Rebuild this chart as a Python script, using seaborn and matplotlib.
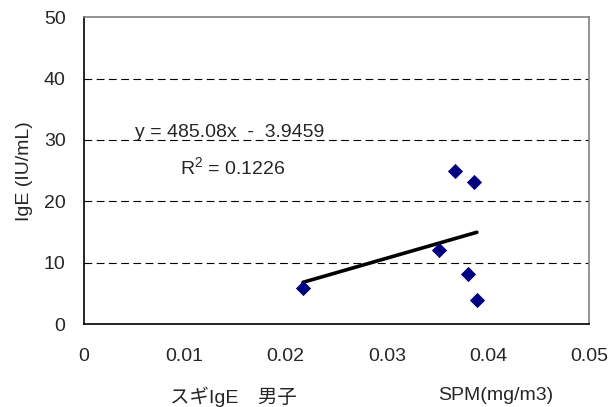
import pandas as pd
import matplotlib
matplotlib.use("Agg")
import matplotlib.pyplot as plt
import seaborn as sns

# data
spm = [0.0217, 0.0352, 0.0367, 0.0386, 0.0380, 0.0389]
ige = [5.8, 12.1, 25.0, 23.2, 8.2, 3.9]
x_ticks = [0, 0.01, 0.02, 0.03, 0.04, 0.05]
x_tick_labels = ["0", "0.01", "0.02", "0.03", "0.04", "0.05"]
y_ticks = [0, 10, 20, 30, 40, 50]
eq_text = "y = 485.08x  -  3.9459"
r2_text = "R$^2$ = 0.1226"

df = pd.DataFrame({"SPM": spm, "IgE": ige})

sns.set_style("white")
plt.rcParams["font.family"] = ["Liberation Sans", "Noto Sans CJK JP"]
plt.rcParams["mathtext.fontset"] = "custom"
plt.rcParams["mathtext.rm"] = "Liberation Sans"

fig = plt.figure(figsize=(6.1, 4.07), dpi=100)
ax = fig.add_axes([0.137, 0.2039, 0.8286, 0.7536])

# grid lines
for v in y_ticks[1:-1]:
    ax.axhline(v, color="black", lw=0.8, ls=(0, (7, 4)), zorder=0)

# trend line (fit from points) + markers
sns.regplot(x="SPM", y="IgE", data=df, ci=None, scatter=False, ax=ax,
            line_kws={"color": "black", "lw": 2.6, "zorder": 2})
sns.scatterplot(x="SPM", y="IgE", data=df, ax=ax, marker="D", s=60,
                color="#000080", edgecolor="#000080", linewidth=0, zorder=3)

ax.set_xlim(0, 0.05)
ax.set_ylim(0, 50)
ax.set_xticks(x_ticks)
ax.set_xticklabels(x_tick_labels)
ax.set_yticks(y_ticks)
ax.tick_params(axis="x", direction="in", length=5, width=0.8, pad=17, labelsize=14)
ax.tick_params(axis="y", direction="in", length=5, width=0.8, pad=13, labelsize=14)
ax.set_xlabel("")
ax.set_ylabel("IgE (IU/mL)", fontsize=14, labelpad=8)

for s in ["left", "bottom"]:
    ax.spines[s].set_color("black")
    ax.spines[s].set_linewidth(1.2)
for s in ["top", "right"]:
    ax.spines[s].set_color("#808080")
    ax.spines[s].set_linewidth(1.2)

ax.text(0.101, 0.625, eq_text, transform=ax.transAxes, fontsize=14,
        va="center", ha="left")
ax.text(0.190, 0.510, r2_text, transform=ax.transAxes, fontsize=14,
        va="center", ha="left")

fig.text(233 / 610, 1 - 397 / 407, "スギIgE　男子", fontsize=14,
         ha="center", va="center")
fig.text(496 / 610, 1 - 395 / 407, "SPM(mg/m3)", fontsize=14, ha="center", va="center")

fig.savefig("out.png", dpi=100)
